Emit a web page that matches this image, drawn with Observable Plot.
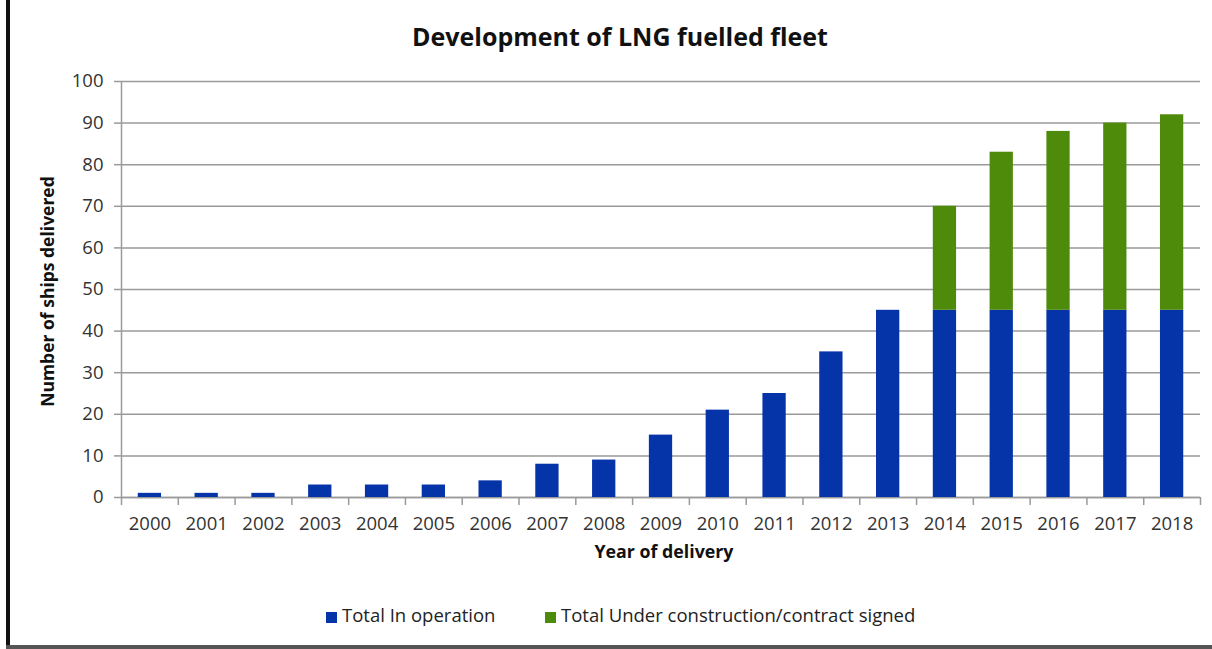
<!DOCTYPE html>
<html>
<head>
<meta charset="utf-8">
<script src="https://cdn.jsdelivr.net/npm/d3@7"></script>
<script src="https://cdn.jsdelivr.net/npm/@observablehq/plot@0.6"></script>
<style>
  html, body { margin: 0; padding: 0; background: #fff; }
  body { width: 1212px; height: 649px; position: relative; overflow: hidden; font-family: "Open Sans", sans-serif; }
  #leftBorder { position: absolute; left: 6px; top: 0; width: 4px; height: 649px; background: #111; }
  #bottomBorder { position: absolute; left: 6px; top: 645px; width: 1206px; height: 4px; background: #555; }
  #title { position: absolute; left: 14px; top: 0; width: 1212px; height: 60px; text-align: center; font-weight: bold; font-size: 25px; line-height: 25px; padding-top: 24px; box-sizing: border-box; color: #111; }
  #chart { position: absolute; left: 0; top: 60px; }
  #legend { position: absolute; left: 0; top: 590px; width: 1212px; height: 50px; font-size: 18.5px; color: #222; }
  .item { position: absolute; top: 12px; white-space: nowrap; }
  .sw { display: inline-block; width: 11px; height: 11px; margin-right: 5px; vertical-align: -1px; }
</style>
</head>
<body>
<div id="title">Development of LNG fuelled fleet</div>
<div id="chart"></div>
<div id="legend">
  <span class="item" style="left:326px"><span class="sw" style="background:#0533a8"></span>Total In operation</span>
  <span class="item" style="left:545px"><span class="sw" style="background:#4e8b0a"></span>Total Under construction/contract signed</span>
</div>
<div id="leftBorder"></div>
<div id="bottomBorder"></div>
<script>
const years = [2000, 2001, 2002, 2003, 2004, 2005, 2006, 2007, 2008, 2009, 2010, 2011, 2012, 2013, 2014, 2015, 2016, 2017, 2018];
const inOperation = [1, 1, 1, 3, 3, 3, 4, 8, 9, 15, 21, 25, 35, 45, 45, 45, 45, 45, 45];
const underConstruction = [0, 0, 0, 0, 0, 0, 0, 0, 0, 0, 0, 0, 0, 0, 25, 38, 43, 45, 47];
const yTicks = [0, 10, 20, 30, 40, 50, 60, 70, 80, 90, 100];

const seriesNames = ["Total In operation", "Total Under construction/contract signed"];
const colors = ["#0533a8", "#4e8b0a"];

const rows = [];
years.forEach((yr, i) => {
  rows.push({year: yr, series: seriesNames[0], y1: 0, y2: inOperation[i]});
  if (underConstruction[i] > 0)
    rows.push({year: yr, series: seriesNames[1], y1: inOperation[i], y2: inOperation[i] + underConstruction[i]});
});
const boundaries = years.map(y => y - 0.5).concat([years[years.length - 1] + 0.5]);

const axisColor = "#9a9a9a";
const chart = Plot.plot({
  width: 1212,
  height: 530,
  marginLeft: 121,
  marginRight: 12,
  marginTop: 21,
  marginBottom: 93,
  style: {fontFamily: "Open Sans, sans-serif", fontSize: "18px", color: "#333", background: "transparent"},
  x: {type: "linear", domain: [years[0] - 0.5, years[years.length - 1] + 0.5]},
  y: {domain: [0, 100]},
  color: {domain: seriesNames, range: colors},
  marks: [
    Plot.gridY(yTicks, {stroke: axisColor, strokeOpacity: 1, strokeWidth: 1.5}),
    Plot.axisY(yTicks, {tickSize: 7, tickPadding: 11, stroke: axisColor, strokeWidth: 1.5, fontSize: 18.5, fill: "#333", label: null}),
    Plot.ruleX([years[0] - 0.5], {y1: 0, y2: 100, stroke: axisColor, strokeWidth: 1.5}),
    Plot.ruleY([0], {stroke: axisColor, strokeWidth: 1.5}),
    Plot.axisX(boundaries, {tickSize: 8, tickFormat: () => "", stroke: axisColor, strokeWidth: 1.5, label: null}),
    Plot.axisX(years, {tickSize: 0, tickPadding: 19, tickFormat: d => String(d), fontSize: 18.5, fill: "#333", label: null}),
    Plot.rectY(rows, {x1: d => d.year - 0.205, x2: d => d.year + 0.205, y1: "y1", y2: "y2", fill: "series"}),
    Plot.text(["Year of delivery"], {frameAnchor: "bottom", dx: 3, dy: 60, fontWeight: "bold", fontSize: 17.8, fill: "#111"}),
    Plot.text(["Number of ships delivered"], {frameAnchor: "left", dx: -73, dy: 2, rotate: -90, textAnchor: "middle", fontWeight: "bold", fontSize: 17.5, fill: "#111"})
  ]
});
document.getElementById("chart").appendChild(chart);
</script>
</body>
</html>
